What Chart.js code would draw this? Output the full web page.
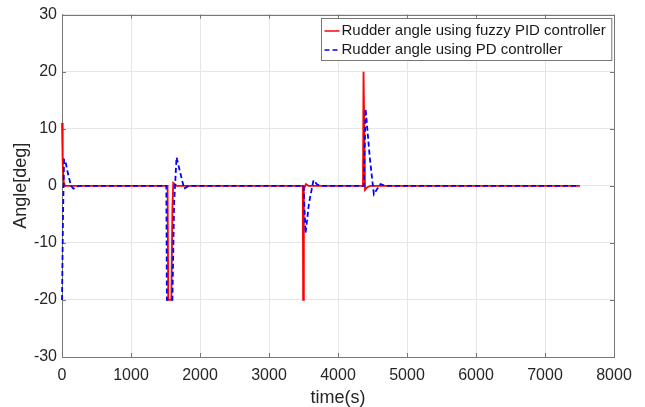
<!DOCTYPE html>
<html>
<head>
<meta charset="utf-8">
<script src="https://cdn.jsdelivr.net/npm/chart.js@4/dist/chart.umd.min.js"></script>
<style>
  html, body { margin: 0; padding: 0; background: #fff; }
  #wrap { width: 645px; height: 407px; position: relative; }
</style>
</head>
<body>
<div id="wrap"><canvas id="rudderChart"></canvas></div>
<script>
// values
const fuzzyTime  = [0, 10, 25, 45, 1530, 1540, 1585, 1600, 1612, 1660, 3490, 3495, 3505, 3535, 3570, 4362, 4370, 4392, 4420, 4470, 7500];
const fuzzyAngle = [11, 4, 0.6, 0, 0, -20, -20, -4, 0.5, 0, 0, -20, -0.6, 0.3, 0, 0, 20, -0.7, -0.3, 0, 0];

const pdTime  = [0, 15, 30, 45, 80, 130, 165, 250, 1512, 1520, 1600, 1625, 1660, 1700, 1770, 1840, 3500, 3530, 3580, 3645, 3700, 3760, 4375, 4400, 4460, 4520, 4570, 4615, 4680, 7500];
const pdAngle = [-20, -5, 4.6, 4.5, 2.5, 0, -0.5, 0, 0, -20, -20, -3, 5, 3, -0.5, 0, 0, -8.3, -3, 1, 0.2, 0, 0, 13.5, 5, -1.5, -0.5, 0.3, 0, 0];

const xTicks = [0, 1000, 2000, 3000, 4000, 5000, 6000, 7000, 8000];
const yTicks = [-30, -20, -10, 0, 10, 20, 30];

const labelFuzzy = 'Rudder angle using fuzzy PID controller';
const labelPD = 'Rudder angle using PD controller';

function toPoints(xs, ys) {
  return xs.map((x, i) => ({ x, y: ys[i] }));
}

const axisColor = '#777777';
const gridColor = '#e6e6e6';
const fontFamily = '"Liberation Sans", Arial, Helvetica, sans-serif';

// matlab-like box: top/right edges and inward ticks on all sides
const boxPlugin = {
  id: 'matlabBox',
  beforeDatasetsDraw(chart) {
    const { ctx, chartArea: a, scales } = chart;
    ctx.save();
    ctx.strokeStyle = axisColor;
    ctx.lineWidth = 1;
    ctx.beginPath();
    ctx.rect(Math.round(a.left) + 0.5, Math.round(a.top) + 0.5,
             Math.round(a.right - a.left), Math.round(a.bottom - a.top));
    const len = 4;
    xTicks.forEach(v => {
      const px = Math.round(scales.x.getPixelForValue(v)) + 0.5;
      ctx.moveTo(px, a.bottom); ctx.lineTo(px, a.bottom - len);
      ctx.moveTo(px, a.top); ctx.lineTo(px, a.top + len);
    });
    yTicks.forEach(v => {
      const py = Math.round(scales.y.getPixelForValue(v)) + 0.5;
      ctx.moveTo(a.left, py); ctx.lineTo(a.left + len, py);
      ctx.moveTo(a.right, py); ctx.lineTo(a.right - len, py);
    });
    ctx.stroke();
    ctx.restore();
  }
};

// legend box inside the axes, top right
const legendPlugin = {
  id: 'boxLegend',
  afterDraw(chart) {
    const { ctx, chartArea: a } = chart;
    const sets = chart.data.datasets.slice().sort((p, q) => p.legendIndex - q.legendIndex);
    ctx.save();
    ctx.font = '15px ' + fontFamily;
    const textW = Math.max(...sets.map(d => ctx.measureText(d.label).width));
    const lineH = 19;
    const w = 20 + textW + 6;
    const h = sets.length * lineH + 4;
    const x0 = Math.round(a.right - 3 - w) + 0.5;
    const y0 = Math.round(a.top + 3) + 0.5;
    ctx.fillStyle = '#fff';
    ctx.fillRect(x0, y0, w, h);
    ctx.strokeStyle = axisColor;
    ctx.lineWidth = 1;
    ctx.strokeRect(x0, y0, w, h);
    sets.forEach((d, i) => {
      const cy = y0 + 3 + lineH * i + lineH / 2;
      ctx.strokeStyle = d.borderColor;
      ctx.lineWidth = 1.5;
      ctx.setLineDash(d.borderDash || []);
      ctx.beginPath();
      ctx.moveTo(x0 + 3, cy); ctx.lineTo(x0 + 18, cy);
      ctx.stroke();
      ctx.setLineDash([]);
      ctx.fillStyle = '#1a1a1a';
      ctx.textBaseline = 'middle';
      ctx.fillText(d.label, x0 + 20, cy);
    });
    ctx.restore();
  }
};

const ctx = document.getElementById('rudderChart').getContext('2d');
new Chart(ctx, {
  type: 'line',
  data: {
    datasets: [
      {
        label: labelPD,
        legendIndex: 1,
        data: toPoints(pdTime, pdAngle),
        borderColor: '#0000ff',
        borderWidth: 1.8,
        borderDash: [5, 3],
        pointRadius: 0,
        tension: 0,
        fill: false,
        clip: false
      },
      {
        label: labelFuzzy,
        legendIndex: 0,
        data: toPoints(fuzzyTime, fuzzyAngle),
        borderColor: '#ff0000',
        borderWidth: 1.8,
        pointRadius: 0,
        tension: 0,
        fill: false,
        clip: false
      }
    ]
  },
  options: {
    responsive: true,
    maintainAspectRatio: false,
    animation: false,
    events: [],
    layout: { padding: { left: 0, right: 31, top: 14, bottom: 0 } },
    plugins: {
      legend: { display: false },
      tooltip: { enabled: false }
    },
    scales: {
      x: {
        type: 'linear',
        min: 0,
        max: 8000,
        afterBuildTicks: s => { s.ticks = xTicks.map(v => ({ value: v })); },
        afterFit: s => { s.height = 50; },
        grid: { color: gridColor, drawTicks: false },
        border: { color: axisColor },
        ticks: { color: '#262626', padding: 9, font: { size: 16, family: fontFamily }, maxRotation: 0, callback: v => String(v) },
        title: { display: true, text: 'time(s)', color: '#262626', padding: { top: 0, bottom: 0 }, font: { size: 18, family: fontFamily, lineHeight: 1 } }
      },
      y: {
        min: -30,
        max: 30,
        afterBuildTicks: s => { s.ticks = yTicks.map(v => ({ value: v })); },
        afterFit: s => { s.width = 62; },
        grid: { color: gridColor, drawTicks: false },
        border: { color: axisColor },
        ticks: { color: '#262626', padding: 5, font: { size: 16, family: fontFamily }, callback: v => String(v) },
        title: { display: true, text: 'Angle[deg]', color: '#262626', padding: { top: 10, bottom: 0 }, font: { size: 18, family: fontFamily } }
      }
    }
  },
  plugins: [boxPlugin, legendPlugin]
});
</script>
</body>
</html>
